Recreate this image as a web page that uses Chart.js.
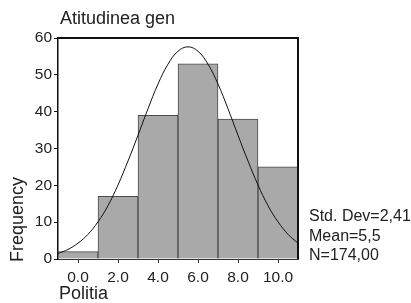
<!DOCTYPE html>
<html><head><meta charset="utf-8">
<script src="https://cdn.jsdelivr.net/npm/chart.js@4/dist/chart.umd.min.js"></script>
<style>html,body{margin:0;padding:0;background:#fff;}#wrap{width:411px;height:303px;}</style>
</head><body><div id="wrap"><canvas id="c" width="411" height="303"></canvas></div>
<script>
const titleText = "Atitudinea gen";
const xTitle = "Politia";
const yTitle = "Frequency";
const binCenters = [0, 2, 4, 6, 8, 10];
const frequencies = [2, 17, 39, 53, 38, 25];
const xTickValues = [0, 2, 4, 6, 8, 10];
const curveX = [-1,-0.5,0,0.5,1,1.5,2,2.5,3,3.5,4,4.5,5,5.5,6,6.5,7,7.5,8,8.5,9,9.5,10,10.5,11];
const curveY = [1.5,2.6,4.3,6.7,10.1,14.5,20.1,26.6,33.6,40.8,47.5,52.9,56.4,57.6,56.4,52.9,47.5,40.8,33.6,26.6,20.1,14.5,10.1,6.7,4.3];
const statsLines = ["Std. Dev=2,41", "Mean=5,5", "N=174,00"];

const FONT = "'Liberation Sans', Arial, Helvetica, sans-serif";

const extras = {
  id: 'extras',
  afterDraw(chart) {
    const ctx = chart.ctx, a = chart.chartArea;
    ctx.save();
    ctx.strokeStyle = '#111';
    ctx.lineWidth = 2;
    ctx.beginPath();
    ctx.moveTo(a.left, a.top);
    ctx.lineTo(a.right, a.top);
    ctx.lineTo(a.right, a.bottom);
    ctx.stroke();
    ctx.fillStyle = '#222';
    ctx.textBaseline = 'middle';
    ctx.textAlign = 'left';
    ctx.font = "18px " + FONT;
    ctx.fillText(titleText, 60, 19);
    ctx.fillText(xTitle, 59, 294);
    ctx.save();
    ctx.translate(18, 262);
    ctx.rotate(-Math.PI / 2);
    ctx.fillText(yTitle, 0, 0);
    ctx.restore();
    ctx.font = "16px " + FONT;
    const ys = [217, 237, 256];
    statsLines.forEach((s, i) => ctx.fillText(s, 309, ys[i]));
    ctx.restore();
  }
};

new Chart(document.getElementById('c'), {
  data: {
    datasets: [
      {
        type: 'line',
        data: curveX.map((x, i) => ({x, y: curveY[i]})),
        borderColor: '#111',
        borderWidth: 1,
        pointRadius: 0,
        tension: 0.4,
        fill: false,
        order: 0
      },
      {
        type: 'bar',
        data: binCenters.map((x, i) => ({x, y: frequencies[i]})),
        backgroundColor: '#a9a9a9',
        borderColor: '#4a4a4a',
        borderWidth: 1,
        barPercentage: 1,
        categoryPercentage: 1,
        grouped: false,
        order: 1
      }
    ]
  },
  options: {
    responsive: false,
    animation: false,
    devicePixelRatio: 1,
    layout: {padding: {left: 0, right: 113, top: 38, bottom: 0}},
    plugins: {legend: {display: false}, tooltip: {enabled: false}, title: {display: false}},
    scales: {
      x: {
        type: 'linear', min: -1, max: 11, offset: false,
        afterBuildTicks: s => { s.ticks = xTickValues.map(v => ({value: v})); },
        afterFit: s => { s.height = 44; },
        ticks: {callback: v => Number(v).toFixed(1), color: '#222', font: {family: FONT, size: 15.5}, padding: 5, maxRotation: 0, autoSkip: false},
        grid: {drawOnChartArea: false, offset: false, tickLength: 4, color: '#333'},
        border: {display: true, color: '#333', width: 1}
      },
      y: {
        min: 0, max: 60,
        afterFit: s => { s.width = 58; },
        ticks: {stepSize: 10, color: '#222', font: {family: FONT, size: 15.5}, padding: 2},
        grid: {drawOnChartArea: false, tickLength: 4, color: '#111'},
        border: {display: true, color: '#111', width: 1.5}
      }
    }
  },
  plugins: [extras]
});
</script></body></html>
